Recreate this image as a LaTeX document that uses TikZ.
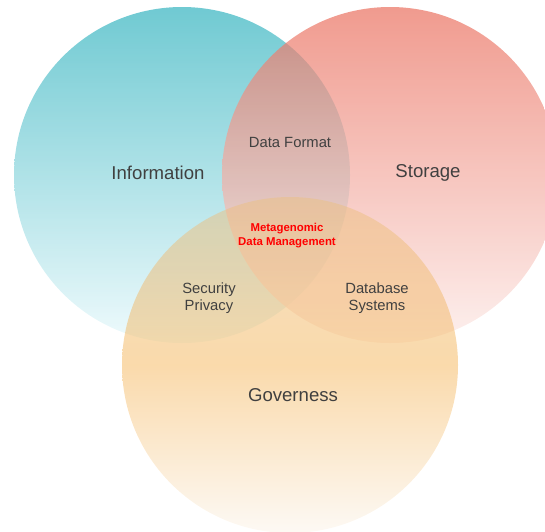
\documentclass[tikz,border=0pt]{standalone}
\usepackage{fontspec}
\setmainfont{Liberation Sans}
\definecolor{tealtop}{RGB}{51,179,191}
\definecolor{tealbot}{RGB}{231,248,251}
\definecolor{salmtop}{RGB}{234,112,95}
\definecolor{salmbot}{RGB}{252,234,231}
\definecolor{orgtop}{RGB}{236,192,132}
\definecolor{orgmid}{RGB}{245,181,88}
\definecolor{orgbot}{RGB}{251,244,234}
\definecolor{txt}{RGB}{64,64,64}
\begin{document}
\begin{tikzpicture}[x=1pt,y=-1pt,
  venn/.style={circle, minimum size=336pt, inner sep=0pt, draw=none},
  big/.style={text=txt, font=\fontsize{18.6}{21}\selectfont},
  mid/.style={text=txt, font=\fontsize{14.8}{16.5}\selectfont, align=center},
  core/.style={text=red, font=\bfseries\fontsize{11.4}{14}\selectfont, align=center}]
\useasboundingbox (0,0) rectangle (545,531);
\clip (0,0) rectangle (545,531);
\node[venn, fill opacity=0.7, top color=tealtop, bottom color=tealbot] (info) at (182,175) {};
\node[venn, fill opacity=0.7, top color=salmtop, bottom color=salmbot] (stor) at (390,175) {};
\node[venn, fill opacity=0.5, top color=orgtop, bottom color=orgbot, middle color=orgmid] (gov) at (290,365) {};
\node[big] (tinfo) at (158,173) {Information};
\node[big] (tstor) at (428,173) {Storage};
\node[big] (tgov) at (293,395) {Governess};
\node[mid] (tfmt) at (290,142) {Data Format};
\node[mid] (tsec) at (209,298) {Security\\Privacy};
\node[mid] (tdb) at (377,298) {Database\\Systems};
\node[core] (tcore) at (287,236) {Metagenomic\\Data Management};
\end{tikzpicture}
\end{document}
